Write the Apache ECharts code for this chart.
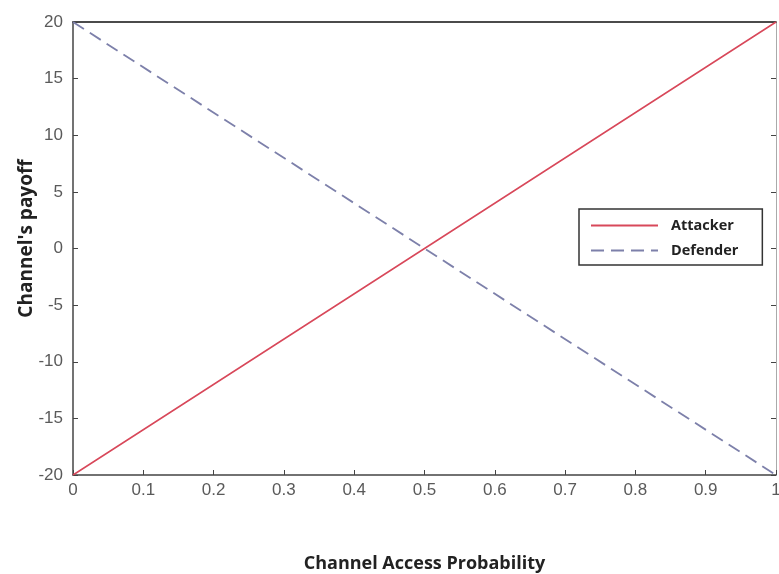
<!DOCTYPE html>
<html>
<head>
<meta charset="utf-8">
<script src="https://cdn.jsdelivr.net/npm/echarts@6/dist/echarts.min.js"></script>
<style>html,body{margin:0;padding:0;background:#fff}#c{width:779px;height:574px}</style>
</head>
<body>
<div id="c"></div>
<script>
const xValues = [0, 0.5, 1];
const attacker = [-20, 0, 20];
const defender = [20, 0, -20];
const xTicks = [0, 0.1, 0.2, 0.3, 0.4, 0.5, 0.6, 0.7, 0.8, 0.9, 1];
const yTicks = [-20, -15, -10, -5, 0, 5, 10, 15, 20];

const chart = echarts.init(document.getElementById('c'), null, {renderer: 'canvas'});
const tickFont = {color: '#5a5a5a', fontSize: 17, fontFamily: 'Liberation Sans, Arial, sans-serif'};
chart.setOption({
  animation: false,
  backgroundColor: '#fff',
  grid: {left: 73, right: 3, top: 22, bottom: 99, containLabel: false, outerBoundsMode: 'none'},
  legend: {
    left: 579, top: 209, orient: 'vertical',
    padding: [9, 24, 7, 11],
    itemWidth: 67, itemHeight: 12, itemGap: 10,
    borderColor: '#333', borderWidth: 1.5,
    backgroundColor: '#fff',
    itemStyle: {opacity: 0},
    textStyle: {fontSize: 14.5, fontWeight: 'bold', color: '#222', fontFamily: 'Open Sans, sans-serif', padding: [0, 0, 0, 8]},
    data: ['Attacker', 'Defender']
  },
  xAxis: [{
    type: 'value', min: 0, max: 1, interval: 0.1,
    name: 'Channel Access Probability', nameLocation: 'middle', nameGap: 80,
    nameTextStyle: {fontSize: 18, fontWeight: 'bold', color: '#222', fontFamily: 'Open Sans, sans-serif'},
    axisLine: {show: true, onZero: false, lineStyle: {color: '#444', width: 1.5}},
    axisTick: {show: true, inside: true, length: 5, lineStyle: {color: '#444'}},
    axisLabel: Object.assign({margin: 7, formatter: v => xTicks.includes(+v.toFixed(1)) ? String(+v.toFixed(1)) : ''}, tickFont),
    splitLine: {show: false}
  }, {
    type: 'value', min: 0, max: 1, position: 'top',
    axisLine: {show: true, onZero: false, lineStyle: {color: '#111', width: 1.5}},
    axisTick: {show: false}, axisLabel: {show: false}, splitLine: {show: false}
  }],
  yAxis: [{
    type: 'value', min: -20, max: 20, interval: 5,
    name: "Channel's payoff", nameLocation: 'middle', nameGap: 37, nameMoveOverlap: false,
    nameTextStyle: {fontSize: 19, fontWeight: 'bold', color: '#222', fontFamily: 'Open Sans, sans-serif', padding: [0, 0, 0, 20]},
    axisLine: {show: true, onZero: false, lineStyle: {color: '#444', width: 1.5}},
    axisTick: {show: true, inside: true, length: 5, lineStyle: {color: '#444'}},
    axisLabel: Object.assign({margin: 10}, tickFont),
    splitLine: {show: false}
  }, {
    type: 'value', min: -20, max: 20, interval: 5, position: 'right',
    axisLine: {show: true, onZero: false, lineStyle: {color: '#aaa', width: 1}},
    axisTick: {show: true, inside: true, length: 5, lineStyle: {color: '#444'}},
    axisLabel: {show: false}, splitLine: {show: false}
  }],
  series: [{
    name: 'Attacker', type: 'line', symbol: 'none',
    data: xValues.map((x, i) => [x, attacker[i]]),
    lineStyle: {color: '#d8485a', width: 1.5},
    itemStyle: {color: '#d8485a'}
  }, {
    name: 'Defender', type: 'line', symbol: 'none',
    data: xValues.map((x, i) => [x, defender[i]]),
    lineStyle: {color: '#7d80aa', width: 1.8, type: [13, 7]},
    itemStyle: {color: '#7d80aa'}
  }]
});
</script>
</body>
</html>
